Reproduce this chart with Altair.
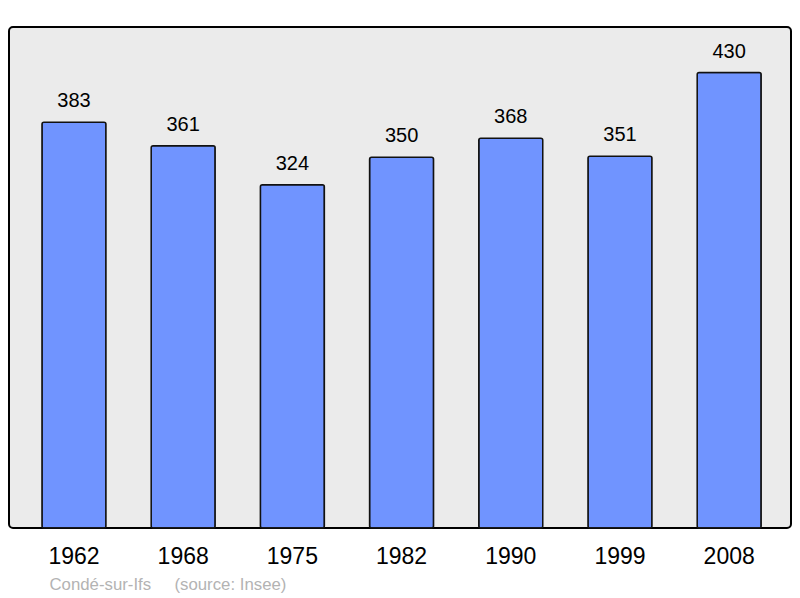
import altair as alt
import pandas as pd

years = ["1962", "1968", "1975", "1982", "1990", "1999", "2008"]
population = [383, 361, 324, 350, 368, 351, 430]

df = pd.DataFrame({"year": years, "pop": population})

x = alt.X(
    "year:N",
    sort=years,
    scale=alt.Scale(paddingInner=0.414, paddingOuter=0.2875, align=0.525),
    axis=alt.Axis(
        title="Condé-sur-Ifs\u00a0\u00a0\u00a0\u00a0 (source: Insee)",
        titleX=40,
        titleY=56,
        titleAlign="left",
        titleBaseline="middle",
        titleAnchor="start",
        titleFontSize=16.8,
        titleFontWeight="normal",
        titleColor="#b3b3b3",
        labelAngle=0,
        labelFontSize=23,
        labelColor="black",
        labelPadding=17,
        ticks=False,
        domain=False,
    ),
)
y = alt.Y("pop:Q", scale=alt.Scale(domain=[0, 473], nice=False, zero=True), axis=None)

bars = alt.Chart(df).mark_bar(
    color="#7094ff", stroke="#111111", strokeWidth=1.5, cornerRadius=2
).encode(x=x, y=y)

labels = alt.Chart(df).mark_text(
    fontSize=20, dy=-21, baseline="middle", color="black"
).encode(x=x, y=y, text="pop:Q")

chart = (
    alt.layer(bars, labels)
    .properties(
        width=782,
        height=501,
        padding={"left": 1, "top": 19, "right": 1, "bottom": 0},
    )
    .configure(font="Liberation Sans")
    .configure_view(fill="#ebebeb", stroke="black", strokeWidth=2, cornerRadius=4)
)

chart.save("out.html", embed_options={"renderer": "svg", "actions": False})
